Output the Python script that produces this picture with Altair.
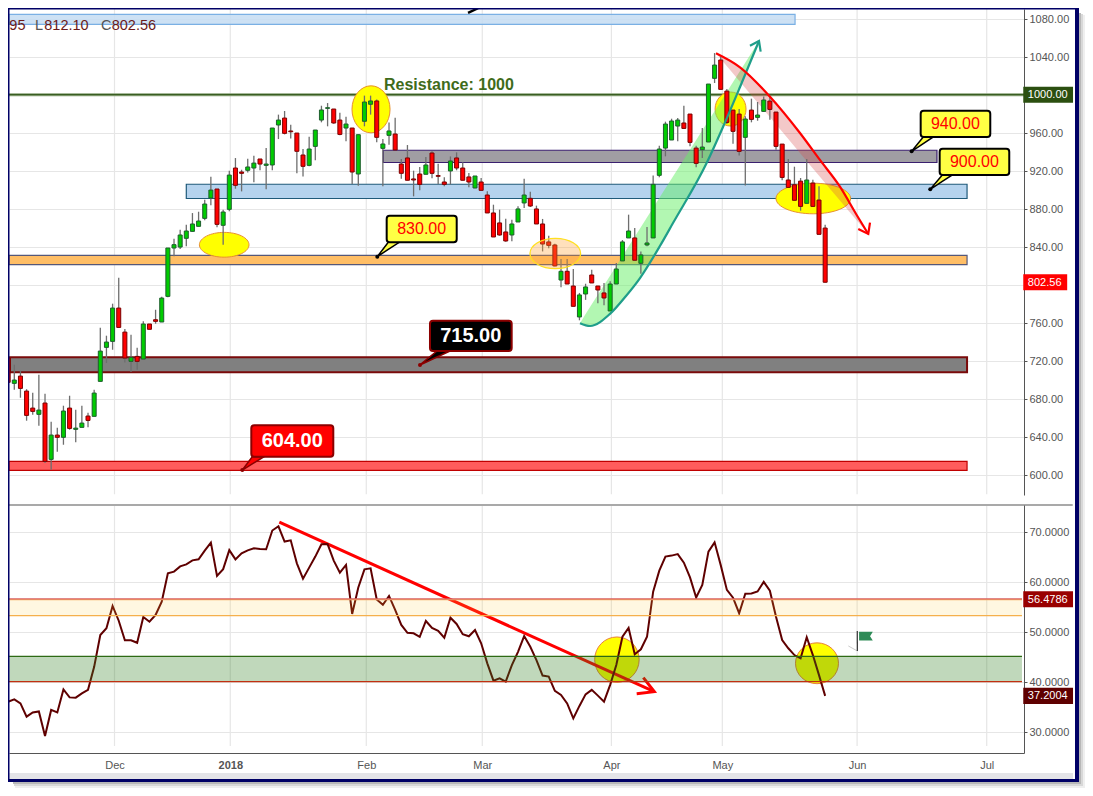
import altair as alt
import pandas as pd

FONT = "Liberation Sans"

# ---------- candles (bar index runs from -1) ----------
opens = [722.8,696.1,703.8,688,670.1,663.5,675.4,616.1,641.7,639.3,670.1,647.7,649.8,661.7,661.4,698.2,734,740.3,775.4,750.1,
 719.3,724.5,721.7,758.6,763.1,760.7,787.7,838.6,839.6,848.8,856.1,861.4,869.8,891.2,900.7,862.5,879.3,922.8,918.6,920.4,
 922.8,932.3,925.6,926,968.1,975.4,961.8,959.6,936.5,925.6,945.6,973.3,985.6,984.9,973.3,964.9,964.9,916.5,972,989.9,
 993.4,943.5,957.2,958.6,927,933.4,911.3,916.5,916.2,938.6,914.8,908.1,919.7,933.4,922.8,913.4,901.8,908.1,894.4,875.5,
 865,855.5,852.3,866,886,890.9,879.7,863.9,845,841.8,804.9,814.1,798.6,766,790.2,810.2,798.6,791.3,772.3,800.7,
 825,849.2,849.2,822.5,841.8,849.2,915.1,943.8,952.3,967,970.2,979.6,943.8,942.1,950.2,1017.2,1036.5,1003.8,983.8,979.6,
 955.1,983.8,976.1,982.4,993.3,981.7,948,910.2,905.2,909,885.6,907,889.1,859.6]
highs = [724,715.7,709.4,690,686.3,705.2,685.2,655.7,649.4,672.6,683.1,668.4,672.6,665.2,689.4,754.7,746.3,780,807.3,753.3,
 747.3,733.6,761.4,758.6,773.6,787.3,838.6,848.4,857.9,863.2,875.4,876.8,889.5,913.7,900.7,878.9,920,933.3,921,932.6,
 935.8,932.3,943.9,965,979,982.8,968.4,959.6,942.8,955.8,962.8,988.4,991.2,985,981,976.8,965,958,999,999,
 995,953.4,970.6,975.8,932.3,947,920,923.9,934.4,940.4,927.4,913,935,939.3,928.8,917.6,914.4,912.3,898.3,884.2,
 879,869.5,868.4,882.5,911.6,897.9,883.2,869.2,851.6,843.2,827,827,816.5,791.3,801,815.8,798.6,801.8,803.5,822.8,
 847,873.7,859.7,835,860.7,914.8,946.3,971.6,974.7,975.4,988.4,979.6,946.3,964.9,1011.2,1043.8,1040.3,1006,983.8,984.9,
 977.2,995.8,992.3,998.2,1000,981.7,948,932.3,924.2,912.3,932.3,910.5,903.5,863.1]
lows = [697,689.4,681,656.8,663.1,651.5,612.2,605.2,624.2,631.5,647.3,634,649.8,649.8,661.4,698,717.5,731.5,755,718.2,
 708,710.5,721.7,753,758.9,760.7,786.7,829.8,837.5,840.4,856,861.4,867.7,883.5,860.4,842.1,877.2,901,898.2,918.2,
 907.7,920.4,900.4,920.4,953.3,958.2,954,917.2,914,924.6,930.9,970.9,966.7,969.5,957.2,950.9,906,904.2,966.7,979,
 949.9,903.5,947.4,941.8,911.6,909.9,893,899.3,916.2,912,905.6,903.5,905.6,920.4,909.9,902.5,901.4,899.3,875.5,850.2,
 851.6,845.3,845.6,866,880.7,881.8,863.9,835,838.3,819.3,797.2,800.7,777.2,762.5,784,801.8,780.4,778.3,772.3,800.7,
 825,849.2,825.7,811.6,840.4,849.1,913,935.1,952.3,950.9,964.5,945.6,923.5,933.3,950.2,1012.3,1005.6,969.1,948.4,936.1,
 904.5,970.9,972.6,981.7,973.7,942.1,909.8,902.4,888.8,877.9,885.6,882.4,853,802.4]
closes = [697.2,699.6,690.8,662.4,666.6,668,614,641.7,639.3,667,648.7,649,654.3,657.1,685.9,730.1,739.6,775.4,755,722.8,
 723.5,719.3,758.6,753,761.4,785.9,838.6,842.1,852.3,856.5,863.9,867,884.9,899.6,863.5,876.5,915.4,904.6,917.2,923.9,
 928,927,927,964.9,973.3,959.3,961,940.4,924.6,942.8,962.8,983.9,986.3,970.2,958.2,969.1,918.6,957.9,992.3,993.4,
 955.1,948.1,961.8,941.8,917.2,909.9,910.2,905.6,926,917.2,914.1,905.6,930.2,922.8,909.9,908.1,914.4,899.3,875.5,850.2,
 852.3,846,863.9,879.7,894.4,882.8,863.9,842.8,841.4,819.7,814.1,800.7,777.2,789.2,797.6,801.8,794.4,786,800.7,816.5,
 845,856.5,825.7,831.3,843.9,905.6,942.8,969.1,972.3,973.3,964.5,949.8,927.7,944.9,1011.2,1031.2,1005.6,970.8,961.4,940.3,
 974.4,974,978.6,994.4,984.5,945.6,912.9,902.4,888.8,882.4,910.2,882.4,853,802.56]

# ---------- oscillator ----------
rsi = [36.05,36.5,35.7,33.05,33.9,34.1,29.2,34.4,33.9,38.5,36.9,36.85,37.7,38.4,43.0,49.35,50.7,55.15,52.2,48.3,
 48.3,47.8,52.95,52.0,53.35,56.0,61.65,62,63.05,63.45,64.25,64.45,66.2,67.8,61.15,62.5,66.3,64.45,65.65,66.25,
 66.65,66.5,66.45,70.2,71.05,68,68.25,63.65,60.6,62.8,65,67.45,67.5,64.2,61.8,63.35,53.55,58.85,62.45,62.65,
 56.45,55.4,57.15,54.35,51.35,49.8,49.7,49,52.15,50.75,50.2,48.8,52.8,51.55,49.5,49.1,50.35,47.7,43.7,40.25,
 40.7,40.05,43.35,46,49.15,47,44.35,41.25,41.05,38.2,37.4,35.7,32.7,35.2,37.5,38.4,37.25,36.05,39.4,43.35,
 49,50.75,45.5,46.5,49,58,62.2,65,65.2,65.5,63.8,60.85,56.85,59.35,66,67.85,63.3,58.35,56.8,53.7,
 57.6,57.65,58.05,59.95,58.2,53,48.35,46.7,45.35,44.7,48.9,45.35,41.35,37.2]

# ---------- axes ----------
tick_idx = [16.31,35.16,57.3,76.18,97.2,115.26,137.2,158.3]
tick_lab = ["Dec","2018","Feb","Mar","Apr","May","Jun","Jul"]
price_ticks = list(range(600,1081,40))
rsi_ticks = [30,40,50,60,70]

# ---------- swooshes ----------
up_i = [92.09,93.72,96.97,99.58,101.86,105.1,107.23,112.71,115.37,118.14,121.23]
up_arc = [759.4,756.5,769.2,788.1,807,840.7,864.9,928.1,966,1008.1,1056.5]
up_chord = [759.4,776.5,809.2,836,859.2,892.3,913.9,969.7,996.5,1024.9,1056.5]
dn_i = [114.23,118.14,123.02,127.9,131.15,134.41,137.13,139.02]
dn_arc = [1043.6,1028.8,997.9,959.7,931.3,903.2,873.4,853.4]
dn_chord = [1043.6,1013.5,976.3,938.7,913.7,888.6,867.7,853.4]

xs = alt.Scale(domain=[-0.863,164.37], range=[0,1015], nice=False, zero=False, padding=0)
ps = alt.Scale(domain=[578.6,1090.2], range=[486,0], nice=False, zero=False)
rs = alt.Scale(domain=[25.8,75.3], range=[744,496], nice=False, zero=False)

expr_lab = "[" + ",".join(f"'{t}'" for t in tick_lab) + "][indexof([" + ",".join(str(t) for t in tick_idx) + "],datum.value)]"
xaxis = alt.Axis(values=tick_idx, labelExpr=expr_lab, grid=False, ticks=False, title=None, domainColor="#555555",
                 labelColor="#555555", labelFont=FONT, labelFontSize=11, labelPadding=6, labelOverlap=False,
                 labelFontWeight=alt.expr("datum.value==35.16?'bold':'normal'"))
paxis = alt.Axis(values=price_ticks, labelExpr="datum.value==800||datum.value==1000?'':format(datum.value,'.2f')",
                 orient="right", title=None, grid=True, gridColor="#e6e6e6", gridWidth=1.2,
                 domainColor="#555555", tickColor="#555555", tickSize=3, labelColor="#555555", labelFont=FONT, labelFontSize=11,
                 labelPadding=2, labelOffset=1, labelOverlap=False)
raxis = alt.Axis(values=rsi_ticks, format=".4f", orient="right", title=None, grid=True, gridColor="#e6e6e6", gridWidth=1.2,
                 domainColor="#555555", tickColor="#555555", tickSize=3, labelColor="#555555", labelFont=FONT, labelFontSize=11,
                 labelPadding=2, labelOffset=1, labelOverlap=False)

def X(f="x"):
    return alt.X(f"{f}:Q", scale=xs, axis=xaxis)
def PY(f="y"):
    return alt.Y(f"{f}:Q", scale=ps, axis=paxis)
def RY(f="y"):
    return alt.Y(f"{f}:Q", scale=rs, axis=raxis)

def span(Y, x0, x1, y0, y1, **mark):
    d = pd.DataFrame({"x":[x0],"x2":[x1],"y":[y0],"y2":[y1]})
    return alt.Chart(d).mark_rect(**mark).encode(x=X(), x2=alt.X2("x2"), y=Y(), y2=alt.Y2("y2"))

def poly(Y, xv, yv, **mark):
    d = pd.DataFrame({"x":xv,"y":yv,"n":range(len(xv))})
    return alt.Chart(d).mark_line(**mark).encode(x=X(), y=Y(), order=alt.Order("n:Q"))

def ell(Y, x, y, ratio_x, ratio_y, size, **mark):
    path = f"M{-ratio_x},0A{ratio_x},{ratio_y},0,1,1,{ratio_x},0A{ratio_x},{ratio_y},0,1,1,{-ratio_x},0Z"
    d = pd.DataFrame({"x":[x],"y":[y]})
    return alt.Chart(d).mark_point(shape=path, size=size, filled=True, opacity=1, **mark).encode(x=X(), y=Y())

def label(Y, x, y, txt, **mark):
    d = pd.DataFrame({"x":[x],"y":[y],"t":[txt]})
    mark.setdefault("font", FONT)
    mark.setdefault("baseline", "middle")
    return alt.Chart(d).mark_text(**mark).encode(x=X(), y=Y(), text="t:N")

def callout(ax, ay, bl, br, x0, x1, y0, y1, pb, cx, cy, txt, fill, stroke, tcol, fs, bold):
    t = (bl-ax)/(br-ax)
    d = pd.DataFrame({"x":[ax,bl,br],"y":[ay,pb,pb],"y2":[ay,ay+(pb-ay)*t,pb]})
    ptr = alt.Chart(d).mark_area(fill=fill, stroke=stroke, strokeWidth=1.5).encode(x=X(), y=PY(), y2=alt.Y2("y2"))
    box = span(PY, x0, x1, y0, y1, fill=fill, stroke=stroke, strokeWidth=2, cornerRadius=3)
    dot = alt.Chart(pd.DataFrame({"x":[ax],"y":[ay]})).mark_point(filled=True, size=16, opacity=1, color=stroke).encode(x=X(), y=PY())
    tx = label(PY, cx, cy, txt, fontSize=fs, fontWeight="bold" if bold else "normal", color=tcol, align="center")
    return [ptr, box, dot, tx]

# ---------- price panel ----------
idx = list(range(-1, len(closes)-1))
cd = pd.DataFrame({"x":idx,"o":opens,"h":highs,"l":lows,"c":closes})
cd["top"] = cd[["o","c"]].max(axis=1)
cd["bot"] = cd[["o","c"]].min(axis=1)
cd["fill"] = ["#00cc00" if c>=o else "#ff0000" for o,c in zip(opens,closes)]
cd["stroke"] = ["#1e5e2e" if c>=o else "#7a0000" for o,c in zip(opens,closes)]

grid_top = pd.DataFrame({"x":tick_idx,"y":[579.5]*len(tick_idx),"y2":[1090.2]*len(tick_idx)})
base_p = alt.Chart(grid_top).mark_rule(color="#e6e6e6", strokeWidth=1.2).encode(x=X(), y=PY(), y2=alt.Y2("y2"))

p = [base_p]
# zones
p.append(span(PY, -0.863, 127.1, 1074.1, 1084.6, fill="#c4dcf2", fillOpacity=0.85, stroke="#7ab0e4", strokeWidth=1.2))
p.append(span(PY, -0.863, 155.1, 821.05, 830.9, fill="#ffbe66", stroke="#55587a", strokeWidth=1.2))
p.append(span(PY, 28.0, 155.1, 890.7, 905.7, fill="#b5d3ee", stroke="#1f5a7a", strokeWidth=1.2))
p.append(span(PY, 60.07, 150.2, 928.6, 941.5, fill="#a09ea3", stroke="#3a1f6f", strokeWidth=1.2))
p.append(span(PY, -0.7, 155.1, 707.9, 723.7, fill="#808080", stroke="#7a0a0a", strokeWidth=2))
p.append(span(PY, -0.863, 155.1, 604.6, 614.1, fill="#ff5c5c", stroke="#c00000", strokeWidth=1.2))
# resistance
res = pd.DataFrame({"x":[-0.863],"x2":[164.37],"y":[1000]})
p.append(alt.Chart(res).mark_rule(color="#8aa37a", strokeWidth=3).encode(x=X(), x2=alt.X2("x2"), y=PY()))
p.append(alt.Chart(res).mark_rule(color="#2a5010", strokeWidth=1).encode(x=X(), x2=alt.X2("x2"), y=PY()))
p.append(label(PY, 60.18, 1010.2, "Resistance: 1000", fontSize=16, fontWeight="bold", color="#3f6b1a", align="left"))
# ellipses
YE = dict(fill="#ffff00", stroke="#e89030", strokeWidth=1)
p.append(ell(PY, 34.17, 842.0, 1, 0.5, 2460, **YE))
p.append(ell(PY, 58.07, 984.6, 0.81, 1, 2209, **YE))
p.append(ell(PY, 116.6, 984.9, 0.91, 1, 1156, **YE))
p.append(ell(PY, 130.07, 890.7, 1, 0.41, 5565, **YE))
# swooshes
upd = pd.DataFrame({"x":up_i,"y":up_arc,"y2":up_chord})
dnd = pd.DataFrame({"x":dn_i,"y":dn_arc,"y2":dn_chord})
p.append(alt.Chart(upd).mark_area(interpolate="monotone", fill="#66f066", fillOpacity=0.5).encode(x=X(), y=PY(), y2=alt.Y2("y2")))
p.append(alt.Chart(dnd).mark_area(interpolate="monotone", fill="#d84848", fillOpacity=0.3).encode(x=X(), y=PY(), y2=alt.Y2("y2")))
# candles
p.append(alt.Chart(cd).mark_rule(color="#6e6e6e", strokeWidth=1.3, clip=True).encode(x=X(), y=PY("h"), y2=alt.Y2("l")))
p.append(alt.Chart(cd).mark_bar(size=4, orient="vertical", strokeWidth=1, clip=True).encode(
    x=X(), y=PY("top"), y2=alt.Y2("bot"),
    fill=alt.Fill("fill:N", scale=None), stroke=alt.Stroke("stroke:N", scale=None)))
# translucent ellipse
p.append(ell(PY, 88.07, 832.8, 1, 0.6, 2560, fill="#ffa030", fillOpacity=0.32, stroke="#ffe020", strokeWidth=1.3))
# arcs
p.append(alt.Chart(upd).mark_line(interpolate="monotone", color="#1f9e8a", strokeWidth=2.2).encode(x=X(), y=PY()))
p.append(poly(PY, [119.76,121.23,121.5], [1051.6,1056.5,1045.3], color="#1f9e8a", strokeWidth=2.2))
p.append(alt.Chart(dnd).mark_line(interpolate="monotone", color="#ff0000", strokeWidth=2.2).encode(x=X(), y=PY()))
p.append(poly(PY, [137.39,139.02,139.3], [858.6,853.4,865.3], color="#ff0000", strokeWidth=2.2))
# callouts
p += callout(59.09,829.5,60.88,62.67, 60.62,72.02,844.6,872.6, 844.6, 66.32,858.6,"830.00","#ffff44","#000000","#ff0000",16,False)
p += callout(146.08,940.4,147.97,149.6, 147.55,158.88,955.5,983.2, 955.5, 153.2,969.2,"940.00","#ffff44","#000000","#ff0000",16,False)
p += callout(149.11,900.4,151.07,152.7, 150.64,161.97,915.5,943.2, 915.5, 156.3,929.2,"900.00","#ffff44","#000000","#ff0000",16,False)
p += callout(66.04,715.5,68.81,70.93, 67.67,80.97,730.2,762.1, 730.2, 74.3,746,"715.00","#000000","#8b0000","#ffffff",20,True)
p += callout(37.12,604.9,38.74,40.65, 38.58,51.93,618.9,652, 618.9, 45.25,635.5,"604.00","#ff0000","#8b0000","#ffffff",20,True)
# cut-off pointer at the top edge
p.append(poly(PY, [73.86,75.5], [1086,1091], color="#000000", strokeWidth=2.5, clip=True))
# OHLC readout
RD = dict(fontSize=14.5, align="left")
p.append(label(PY, -0.81, 1072.5, "95", color="#6b1a1a", **RD))
p.append(label(PY, 3.37, 1072.5, "L", color="#555555", **RD))
p.append(label(PY, 4.88, 1072.5, "812.10", color="#6b1a1a", **RD))
p.append(label(PY, 14.1, 1072.5, "C", color="#555555", **RD))
p.append(label(PY, 15.86, 1072.5, "802.56", color="#6b1a1a", **RD))
# side labels
p.append(span(PY, 164.25, 172.35, 991.6, 1008.4, fill="#2b4f10"))
p.append(label(PY, 165.0, 999.5, "1000.00", color="#ffffff", fontSize=11, align="left"))
p.append(span(PY, 164.25, 171.4, 794.1, 811, fill="#ff0000"))
p.append(label(PY, 165.0, 802, "802.56", color="#ffffff", fontSize=11, align="left"))
price_panel = alt.layer(*p)

# ---------- oscillator panel ----------
grid_bot = pd.DataFrame({"x":tick_idx,"y":[27.2]*len(tick_idx),"y2":[75.1]*len(tick_idx)})
r = [alt.Chart(grid_bot).mark_rule(color="#e6e6e6", strokeWidth=1.2).encode(x=X(), y=RY(), y2=alt.Y2("y2"))]
sep = pd.DataFrame({"x":[-0.863],"x2":[172.3],"y":[75.3]})
r.append(alt.Chart(sep).mark_rule(color="#555555", strokeWidth=1.2).encode(x=X(), x2=alt.X2("x2"), y=RY()))
YC = dict(fill="#ffff00", stroke="#e88040", strokeWidth=1)
r.append(ell(RY, 98.1, 44.43, 0.98, 1, 2061, **YC))
r.append(ell(RY, 130.67, 43.71, 1, 0.95, 1849, **YC))
r.append(poly(RY, [43.14,104.18], [71.86,38.04], color="#ff0000", strokeWidth=3))
r.append(poly(RY, [102.4,104.18,101.32], [40.84,38.04,37.64], color="#ff0000", strokeWidth=3))
rd = pd.DataFrame({"x":idx,"y":rsi})
r.append(alt.Chart(rd).mark_line(color="#5f0000", strokeWidth=2, clip=True).encode(x=X(), y=RY()))
r.append(span(RY, -0.863, 164.04, 53.2, 56.48, fill="#ffcc33", fillOpacity=0.15))
def hline(v, col):
    return alt.Chart(pd.DataFrame({"x":[-0.863],"x2":[164.04],"y":[v]})).mark_rule(color=col, strokeWidth=1.2).encode(x=X(), x2=alt.X2("x2"), y=RY())
r.append(hline(53.2, "#f5b04c"))
r.append(hline(56.4, "#f5b060"))
r.append(hline(56.55, "#d96060"))
r.append(span(RY, -0.863, 164.04, 40.04, 45.1, fill="#2e7d1e", fillOpacity=0.3))
r.append(hline(45.1, "#2e6a14"))
r.append(hline(40.04, "#c03010"))
# flag
r.append(poly(RY, [135.77,137.23], [47.17,46.17], color="#cccccc", strokeWidth=1))
r.append(poly(RY, [137.23,137.24], [50.16,46.17], color="#333333", strokeWidth=1.2))
flag = pd.DataFrame({"x":[138.64],"y":[49.12]})
r.append(alt.Chart(flag).mark_point(shape="M-1,-0.65L1,-0.65L0.6,0L1,0.65L-1,0.65Z", size=188, filled=True, opacity=1, fill="#2e8b57").encode(x=X(), y=RY()))
# side labels
r.append(span(RY, 164.25, 172.35, 54.88, 58.08, fill="#990000"))
r.append(label(RY, 165.0, 56.4, "56.4786", color="#ffffff", fontSize=11, align="left"))
r.append(span(RY, 164.25, 172.35, 35.6, 38.8, fill="#5f0000"))
r.append(label(RY, 165.0, 37.1, "37.2004", color="#ffffff", fontSize=11, align="left"))
rsi_panel = alt.layer(*r)

# ---------- frame, shadow and bottom band (pixel decorations) ----------
def deco(x0, x1, y0, y1, col):
    return alt.Chart(pd.DataFrame({"k":[0]})).mark_rect(color=col).encode(
        x=alt.value(x0), x2=alt.value(x1), y=alt.value(y0), y2=alt.value(y1))

frame = [
    deco(1070,1072,4,775,"#b8b8b8"), deco(1072,1074,5,777,"#d8d8d8"), deco(1074,1076,6,779,"#efefef"),
    deco(4,1072,773,775,"#b8b8b8"), deco(5,1074,775,777,"#d8d8d8"), deco(6,1076,777,779,"#efefef"),
    deco(0,1064,764,770,"#e4e4e8"),
    deco(-1,1070,-1,0.5,"#000066"), deco(-1,0.5,-1,773,"#000066"),
    deco(1066,1070,-1,773,"#000066"), deco(-1,1070,770,773,"#000066"),
]

chart = alt.layer(price_panel, rsi_panel, *frame).resolve_scale(y="independent").properties(
    width=1015, height=744,
    padding={"left":1,"top":1,"right":61,"bottom":35},
    autosize=alt.AutoSizeParams(type="none"),
    background="#ffffff",
).configure_view(stroke=None)

chart.save("out.html", embed_options={"renderer": "svg", "actions": False})
